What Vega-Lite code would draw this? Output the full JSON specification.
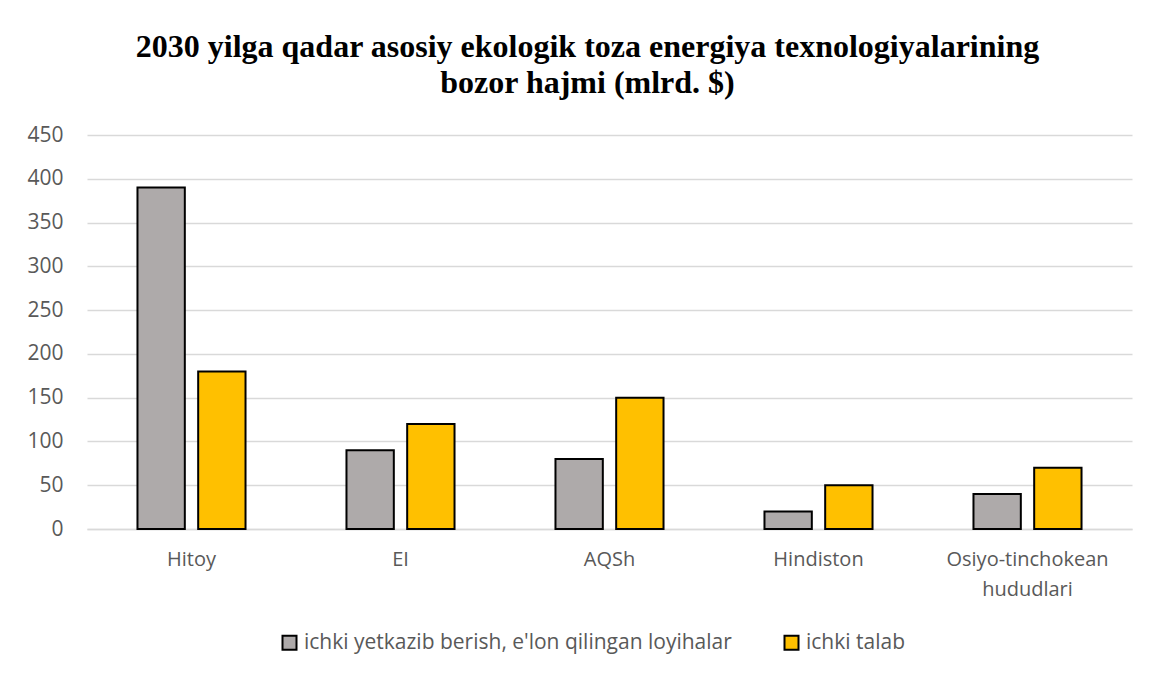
{
  "$schema": "https://vega.github.io/schema/vega-lite/v6.json",
  "width": 1045,
  "height": 394,
  "autosize": {"type": "none"},
  "padding": {"left": 87, "top": 135, "right": 18, "bottom": 145},
  "background": "white",
  "title": {
    "text": ["2030 yilga qadar asosiy ekologik toza energiya texnologiyalarining", "bozor hajmi (mlrd. $)"],
    "font": "Liberation Serif",
    "fontSize": 32,
    "fontWeight": "bold",
    "color": "#000000",
    "anchor": "middle",
    "dx": -22,
    "offset": 24,
    "lineHeight": 36
  },
  "data": {
    "values": [
      {"region": "Hitoy", "series": "ichki yetkazib berish, e'lon qilingan loyihalar", "value": 390},
      {"region": "Hitoy", "series": "ichki talab", "value": 180},
      {"region": "EI", "series": "ichki yetkazib berish, e'lon qilingan loyihalar", "value": 90},
      {"region": "EI", "series": "ichki talab", "value": 120},
      {"region": "AQSh", "series": "ichki yetkazib berish, e'lon qilingan loyihalar", "value": 80},
      {"region": "AQSh", "series": "ichki talab", "value": 150},
      {"region": "Hindiston", "series": "ichki yetkazib berish, e'lon qilingan loyihalar", "value": 20},
      {"region": "Hindiston", "series": "ichki talab", "value": 50},
      {"region": "Osiyo-tinchokean hududlari", "series": "ichki yetkazib berish, e'lon qilingan loyihalar", "value": 40},
      {"region": "Osiyo-tinchokean hududlari", "series": "ichki talab", "value": 70}
    ]
  },
  "mark": {"type": "bar", "stroke": "#000000", "strokeWidth": 2},
  "encoding": {
    "x": {
      "field": "region",
      "type": "nominal",
      "sort": null,
      "scale": {"paddingInner": 0.483, "paddingOuter": 0.2415},
      "axis": {
        "title": null,
        "labelAngle": 0,
        "labelFont": "Open Sans",
        "labelFontSize": 20,
        "labelColor": "#595959",
        "labelPadding": 20,
        "labelLineHeight": 30,
        "ticks": false,
        "domain": true,
        "domainColor": "#d9d9d9",
        "domainWidth": 1.5,
        "labelExpr": "datum.value == 'Osiyo-tinchokean hududlari' ? ['Osiyo-tinchokean', 'hududlari'] : datum.label"
      }
    },
    "xOffset": {
      "field": "series",
      "type": "nominal",
      "sort": ["ichki yetkazib berish, e'lon qilingan loyihalar", "ichki talab"],
      "scale": {"paddingInner": 0.22}
    },
    "y": {
      "field": "value",
      "type": "quantitative",
      "scale": {"domain": [0, 450]},
      "axis": {
        "title": null,
        "values": [0, 50, 100, 150, 200, 250, 300, 350, 400, 450],
        "labelFont": "Open Sans",
        "labelFontSize": 21,
        "labelColor": "#595959",
        "labelPadding": 24,
        "ticks": false,
        "domain": false,
        "grid": true,
        "gridColor": "#d9d9d9",
        "gridWidth": 1.5
      }
    },
    "color": {
      "field": "series",
      "type": "nominal",
      "sort": ["ichki yetkazib berish, e'lon qilingan loyihalar", "ichki talab"],
      "scale": {"range": ["#AEAAAA", "#FFC000"]},
      "legend": {
        "title": null,
        "orient": "none",
        "legendX": 192,
        "legendY": 497,
        "direction": "horizontal",
        "symbolType": "square",
        "symbolSize": 196,
        "symbolStrokeColor": "#000000",
        "symbolStrokeWidth": 2,
        "symbolOpacity": 1,
        "labelFont": "Open Sans",
        "labelFontSize": 21,
        "labelColor": "#595959",
        "labelOffset": 4,
        "labelLimit": 600,
        "columnPadding": 48
      }
    }
  },
  "config": {"view": {"stroke": null}}
}
